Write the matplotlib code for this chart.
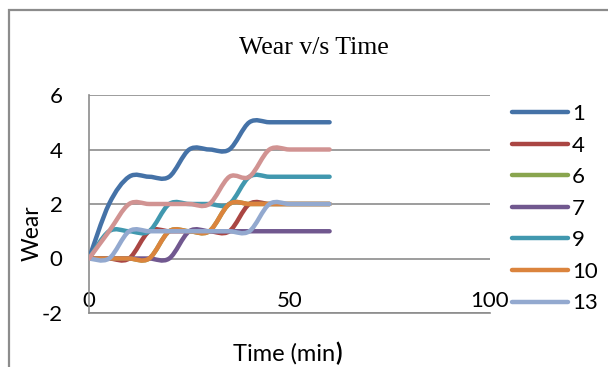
import matplotlib
matplotlib.use("Agg")
import matplotlib.pyplot as plt
from matplotlib.path import Path
from matplotlib.patches import PathPatch, Rectangle
from matplotlib.lines import Line2D

time = [0, 5, 10, 15, 20, 25, 30, 35, 40, 45, 50, 55, 60]
wear_1 = [0, 2, 3, 3, 3, 4, 4, 4, 5, 5, 5, 5, 5]
wear_4 = [0, 0, 0, 1, 1, 1, 1, 1, 2, 2, 2, 2, 2]
wear_6 = [0, 0, 0, 0, 1, 1, 1, 2, 2, 2, 2, 2, 2]
wear_7 = [0, 0, 0, 0, 0, 1, 1, 1, 1, 1, 1, 1, 1]
wear_9 = [0, 1, 1, 1, 2, 2, 2, 2, 3, 3, 3, 3, 3]
wear_10 = [0, 0, 0, 0, 1, 1, 1, 2, 2, 2, 2, 2, 2]
wear_13 = [0, 0, 1, 1, 1, 1, 1, 1, 1, 2, 2, 2, 2]
wear_16 = [0, 1, 2, 2, 2, 2, 2, 3, 3, 4, 4, 4, 4]

series = [
    ("1", wear_1, "#4572A7"),
    ("4", wear_4, "#AA4643"),
    ("6", wear_6, "#89A54E"),
    ("7", wear_7, "#71588F"),
    ("9", wear_9, "#4198AF"),
    ("10", wear_10, "#DB843D"),
    ("13", wear_13, "#93A9CF"),
    ("16", wear_16, "#D19392"),
]
legend_names = ["1", "4", "6", "7", "9", "10", "13"]

LW = 3.2
GRID = "#8c8c8c"
SANS = "Lato"
plt.rcParams["axes.unicode_minus"] = False


def smooth_path(x, y):
    # cubic bezier through the points, spreadsheet-style smoothing
    n = len(x)
    verts = [(x[0], y[0])]
    codes = [Path.MOVETO]
    for i in range(n - 1):
        xp, yp = (x[i - 1], y[i - 1]) if i > 0 else (x[i], y[i])
        xn, yn = (x[i + 2], y[i + 2]) if i + 2 < n else (x[i + 1], y[i + 1])
        c1 = (x[i] + (x[i + 1] - xp) / 6, y[i] + (y[i + 1] - yp) / 6)
        c2 = (x[i + 1] - (xn - x[i]) / 6, y[i + 1] - (yn - y[i]) / 6)
        verts += [c1, c2, (x[i + 1], y[i + 1])]
        codes += [Path.CURVE4] * 3
    return Path(verts, codes)


W, H = 608, 367
fig = plt.figure(figsize=(W / 100, H / 100), dpi=100)
ax = fig.add_axes([89 / W, 1 - 313 / H, (490 - 89) / W, (313 - 95) / H])

handles = []
for name, vals, color in series:
    patch = PathPatch(smooth_path(time, vals), facecolor="none", edgecolor=color,
                      lw=LW, capstyle="round", joinstyle="round", zorder=3)
    ax.add_patch(patch)
    if name in legend_names:
        handles.append(Line2D([], [], color=color, lw=LW, solid_capstyle="round", label=name))

ax.set_xlim(0, 100)
ax.set_ylim(-2, 6)
ax.set_xticks([0, 50, 100])
ax.set_yticks([-2, 0, 2, 4, 6])
ax.yaxis.grid(True, color=GRID, lw=1.2)
ax.set_axisbelow(True)
for side in ("top", "right"):
    ax.spines[side].set_visible(False)
for side in ("left", "bottom"):
    ax.spines[side].set_color(GRID)
    ax.spines[side].set_linewidth(1.2)
ax.tick_params(axis="both", length=0, labelsize=16)
ax.tick_params(axis="x", pad=-16)
ax.tick_params(axis="y", pad=19)
for lab in ax.get_xticklabels() + ax.get_yticklabels():
    lab.set_fontfamily(SANS)

fig.text(314 / W, 1 - 54 / H, "Wear v/s Time", ha="center", va="baseline",
         fontsize=18.5, family="Liberation Serif")
fig.text(32 / W, 1 - 233 / H, "Wear", rotation=90, ha="center", va="center",
         fontsize=16.5, family=SANS)
# x label: the closing bracket is set in bold
xl = fig.text(284 / W, 1 - 361 / H, "Time (min", ha="center", va="baseline",
              fontsize=17, family=SANS)
ax.annotate(")", xy=(1, 0), xycoords=xl, va="bottom", ha="left",
            fontsize=17, family=SANS, weight="bold")

fig.legend(handles=handles, loc="upper left", bbox_to_anchor=(512 / W, 1 - 104 / H),
           frameon=False, borderpad=0, borderaxespad=0,
           handlelength=2.5, handletextpad=0.2, labelspacing=0.52,
           prop={"family": SANS, "size": 16})

fig.add_artist(Rectangle((9 / W, -0.1), 1.1, 1.1 - 10 / H, transform=fig.transFigure,
                         facecolor="none", edgecolor=GRID, lw=1.6))

fig.savefig("out.png", dpi=100)
